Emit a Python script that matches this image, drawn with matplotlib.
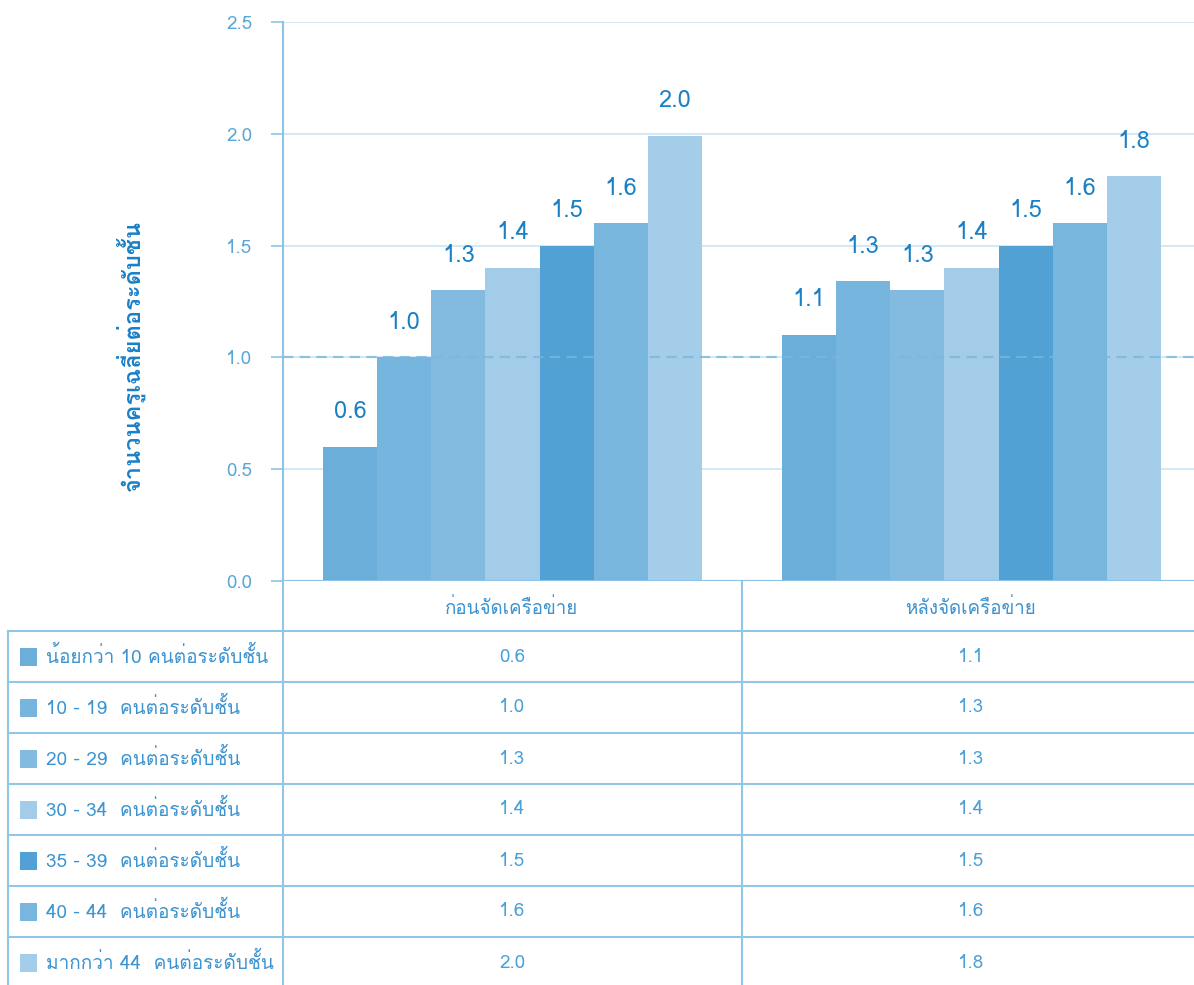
import matplotlib
matplotlib.use("Agg")
import matplotlib.pyplot as plt
from matplotlib import font_manager
from matplotlib.ft2font import FT2Font
from matplotlib.patches import Rectangle
from matplotlib.lines import Line2D
import numpy as np

# ---------------- data ----------------
categories = ["ก่อนจัดเครือข่าย", "หลังจัดเครือข่าย"]
series_labels = [
    "น้อยกว่า 10 คนต่อระดับชั้น",
    "10 - 19  คนต่อระดับชั้น",
    "20 - 29  คนต่อระดับชั้น",
    "30 - 34  คนต่อระดับชั้น",
    "35 - 39  คนต่อระดับชั้น",
    "40 - 44  คนต่อระดับชั้น",
    "มากกว่า 44  คนต่อระดับชั้น",
]
# bar heights as drawn (before, after)
before_values = [0.60, 1.00, 1.30, 1.40, 1.50, 1.60, 1.99]
after_values = [1.10, 1.34, 1.30, 1.40, 1.50, 1.60, 1.81]
# labels printed in the chart / table
before_labels = ["0.6", "1.0", "1.3", "1.4", "1.5", "1.6", "2.0"]
after_labels = ["1.1", "1.3", "1.3", "1.4", "1.5", "1.6", "1.8"]
y_ticks = [0.0, 0.5, 1.0, 1.5, 2.0, 2.5]
y_label = "จำนวนครูเฉลี่ยต่อระดับชั้น"
reference_line = 1.0

colors = ["#6aaed9", "#76b5de", "#83bbe0", "#a2cce8", "#51a1d4", "#78b6de", "#a3cde8"]

# ---------------- fonts ----------------
def find_thai_fonts():
    found = []
    for fe in font_manager.fontManager.ttflist:
        try:
            cm = FT2Font(fe.fname).get_charmap()
            if 0x0E01 in cm and 0x0E32 in cm:
                if fe.name not in found:
                    found.append(fe.name)
        except Exception:
            pass
    return found

thai = find_thai_fonts()
families = thai + ["DejaVu Sans"]
plt.rcParams["font.family"] = families

# ---------------- figure ----------------
W, H = 1194, 985
fig = plt.figure(figsize=(W / 100, H / 100), dpi=100)

def fx(px):
    return px / W

def fy(py):
    return 1 - py / H

ax_left, ax_right = 283, 1201
ax_top, ax_bottom = 22, 581
ax = fig.add_axes([fx(ax_left), fy(ax_bottom), fx(ax_right - ax_left), fy(ax_top) - fy(ax_bottom)])

spine_col = "#8cc3e6"
grid_col = "#d4e8f6"
label_col = "#1a80c6"
tick_col = "#5aa6d8"

n = len(series_labels)
group_width = 0.826
bw = group_width / n
x = np.arange(len(categories))
values = [before_values, after_values]
labels = [before_labels, after_labels]

for i in range(n):
    xs = x - group_width / 2 + bw * (i + 0.5)
    hs = [values[0][i], values[1][i]]
    ax.bar(xs, hs, width=bw, color=colors[i], zorder=2, linewidth=0)
    for xi, hi, lab in zip(xs, hs, [labels[0][i], labels[1][i]]):
        ax.annotate(lab, (xi, hi), xytext=(0, 17), textcoords="offset points",
                    ha="center", va="bottom", fontsize=17, color=label_col)

ax.set_xlim(-0.5, 1.5)
ax.set_ylim(0, 2.5)
ax.set_yticks(y_ticks)
ax.set_yticklabels([f"{t:.1f}" for t in y_ticks])
ax.tick_params(axis="y", colors=spine_col, labelcolor=tick_col, labelsize=13.5, length=9, width=1.2, pad=13)
ax.set_xticks([])
ax.yaxis.grid(True, color=grid_col, linewidth=1.5, zorder=0)
ax.set_axisbelow(True)
for s in ["top", "right", "bottom"]:
    ax.spines[s].set_visible(False)
ax.spines["left"].set_color(spine_col)
ax.spines["left"].set_linewidth(1.5)
ax.axhline(reference_line, color="#7ab6df", linestyle=(0, (5, 3)), linewidth=1.5, zorder=3, alpha=0.8)
ax.axhline(0, color=spine_col, linewidth=1.5, zorder=3)

fig.text(fx(130), fy(355), y_label, rotation=90, ha="center", va="center",
         fontsize=17, fontweight="bold", color=label_col)

# ---------------- table ----------------
line_col = "#92c6e7"
lw = 1.5
header_bottom = 631
row_h = 51
col_mid = 742
col_centers = [512, 971]
table_left = 8

def hline(y, x0, x1):
    fig.add_artist(Line2D([fx(x0), fx(x1)], [fy(y), fy(y)], color=line_col, linewidth=lw))

def vline(x, y0, y1):
    fig.add_artist(Line2D([fx(x), fx(x)], [fy(y0), fy(y1)], color=line_col, linewidth=lw))

# vertical lines
vline(ax_left, ax_bottom, H + 5)
vline(col_mid, ax_bottom, H + 5)
vline(table_left, header_bottom, H + 5)

# header row labels
for c, cx in zip(categories, col_centers):
    fig.text(fx(cx), fy((ax_bottom + header_bottom) / 2 + 2), c, ha="center", va="center",
             fontsize=13.5, color="#3d94d0")

for i in range(n):
    top = header_bottom + i * row_h
    hline(top, table_left, W + 5)
    cy = top + row_h / 2
    fig.add_artist(Rectangle((fx(20), fy(cy + 9)), fx(17), fy(cy - 9) - fy(cy + 9),
                             color=colors[i], linewidth=0))
    fig.text(fx(46), fy(cy), series_labels[i], ha="left", va="center", fontsize=13.7, color="#3d94d0")
    fig.text(fx(col_centers[0]), fy(cy), labels[0][i], ha="center", va="center", fontsize=13.5, color="#4aa0d8")
    fig.text(fx(col_centers[1]), fy(cy), labels[1][i], ha="center", va="center", fontsize=13.5, color="#4aa0d8")

fig.savefig("out.png", dpi=100)
